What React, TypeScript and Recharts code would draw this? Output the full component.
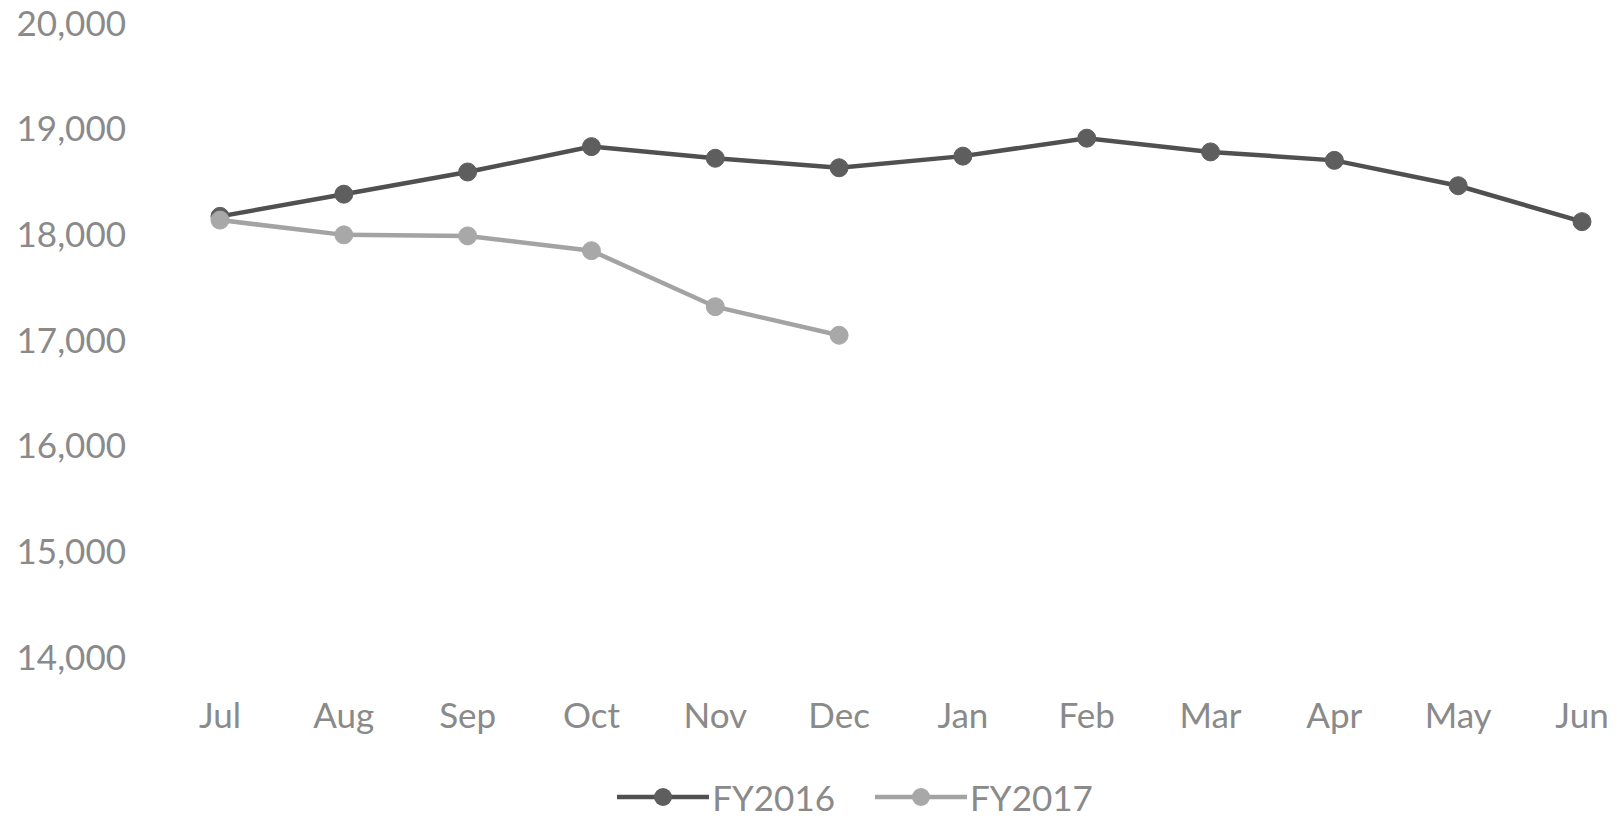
import React from 'react';
import { LineChart, Line, XAxis, YAxis, Legend } from 'recharts';

const categories = ['Jul', 'Aug', 'Sep', 'Oct', 'Nov', 'Dec', 'Jan', 'Feb', 'Mar', 'Apr', 'May', 'Jun'];
const fy2016 = [18170, 18380, 18590, 18830, 18720, 18630, 18740, 18910, 18780, 18700, 18460, 18120];
const fy2017 = [18135, 17995, 17985, 17845, 17315, 17045];
const yTicks = [14000, 15000, 16000, 17000, 18000, 19000, 20000];

const seriesNames = ['FY2016', 'FY2017'];
const lineColors = ['#505050', '#a3a3a3'];
const dotColors = ['#5e5e5e', '#a8a8a8'];

const data = categories.map((month, i) => ({
  month,
  FY2016: fy2016[i],
  FY2017: i < fy2017.length ? fy2017[i] : null,
}));

const FONT = 'Lato, "Noto Sans", sans-serif';
const TEXT = '#8a8a8a';

const YTick = (props: any) => {
  const { y, payload } = props;
  return (
    <text x={118} y={y} dy="0.36em" textAnchor="end" fontFamily={FONT} fontSize={35} fill={TEXT}>
      {Number(payload.value).toLocaleString('en-US')}
    </text>
  );
};

const XTick = (props: any) => {
  const { x, y, payload } = props;
  return (
    <text x={x} y={y} dy={63} textAnchor="middle" fontFamily={FONT} fontSize={35} fill={TEXT}>
      {payload.value}
    </text>
  );
};

const LegendContent = () => (
  <div
    style={{
      height: 30,
      display: 'flex',
      justifyContent: 'center',
      alignItems: 'center',
      paddingLeft: 120,
      fontFamily: FONT,
      fontSize: 35,
      color: TEXT,
    }}
  >
    {seriesNames.map((name, i) => (
      <div key={name} style={{ display: 'flex', alignItems: 'center', marginRight: i === 0 ? 40 : 0 }}>
        <svg width={92} height={30} style={{ display: 'block', marginRight: 3 }}>
          <line x1={0} y1={15} x2={92} y2={15} stroke={lineColors[i]} strokeWidth={4.5} />
          <circle cx={46} cy={15} r={9} fill={dotColors[i]} />
        </svg>
        <span style={{ lineHeight: '30px' }}>{name}</span>
      </div>
    ))}
  </div>
);

export default function App() {
  return (
    <div>
      <style>{`.recharts-surface{overflow:visible}`}</style>
      <LineChart width={1600} height={804} data={data} margin={{ top: 15, right: 26, bottom: 0, left: 0 }}>
        <XAxis dataKey="month" axisLine={false} tickLine={false} height={125} tick={<XTick />} interval={0} />
        <YAxis
          domain={[14000, 20000]}
          ticks={yTicks}
          axisLine={false}
          tickLine={false}
          width={212}
          tick={<YTick />}
          interval={0}
        />
        <Legend verticalAlign="bottom" height={30} content={<LegendContent />} />
        {seriesNames.map((name, i) => (
          <Line
            key={name}
            type="linear"
            dataKey={name}
            stroke={lineColors[i]}
            strokeWidth={4.5}
            dot={{ r: 9, fill: dotColors[i], stroke: dotColors[i], strokeWidth: 1 }}
            activeDot={false}
            isAnimationActive={false}
            connectNulls={false}
          />
        ))}
      </LineChart>
    </div>
  );
}
